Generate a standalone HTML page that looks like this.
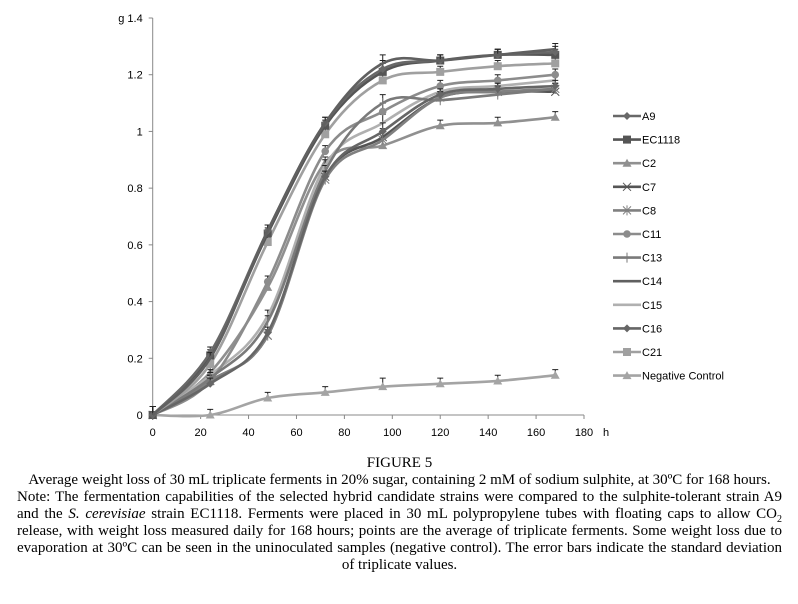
<!DOCTYPE html>
<html><head><meta charset="utf-8">
<style>
body{margin:0;background:#fff;width:798px;height:604px;overflow:hidden;position:relative;font-family:"Liberation Sans",sans-serif}
#chart{position:absolute;left:0;top:0}
.cap{position:absolute;left:17px;width:765px;font-family:"Liberation Serif",serif;font-size:15px;color:#000;line-height:17px;white-space:nowrap}
.j span.in{display:inline-block;white-space:nowrap}
.c{text-align:center}
</style></head><body>
<svg id="chart" width="798" height="450" font-family="Liberation Sans, sans-serif" font-size="11"></svg>
<div class="cap c" style="top:455px">FIGURE 5</div>
<div class="cap c" style="top:472px">Average weight loss of 30 mL triplicate ferments in 20% sugar, containing 2 mM of sodium sulphite, at 30ºC for 168 hours.</div>
<div class="cap j" style="top:489px"><span class="in">Note: The fermentation capabilities of the selected hybrid candidate strains were compared to the sulphite-tolerant strain A9</span></div>
<div class="cap j" style="top:506px"><span class="in">and the <i>S. cerevisiae</i> strain EC1118. Ferments were placed in 30 mL polypropylene tubes with floating caps to allow CO<sub style="font-size:10px;line-height:0">2</sub></span></div>
<div class="cap j" style="top:523px"><span class="in">release, with weight loss measured daily for 168 hours; points are the average of triplicate ferments. Some weight loss due to</span></div>
<div class="cap j" style="top:540px"><span class="in">evaporation at 30ºC can be seen in the uninoculated samples (negative control). The error bars indicate the standard deviation</span></div>
<div class="cap c" style="top:557px">of triplicate values.</div>
<script>
const times=[0,24,48,72,96,120,144,168];
const seriesNames=["A9","EC1118","C2","C7","C8","C11","C13","C14","C15","C16","C21","Negative Control"];
const A9=[0,0.22,0.65,1.03,1.22,1.25,1.27,1.28];
const EC1118=[0,0.21,0.64,1.02,1.21,1.25,1.27,1.27];
const C2=[0,0.15,0.45,0.89,0.95,1.02,1.03,1.05];
const C7=[0,0.12,0.28,0.84,0.98,1.12,1.14,1.14];
const C8=[0,0.12,0.28,0.83,0.97,1.12,1.14,1.15];
const C11=[0,0.12,0.47,0.93,1.07,1.16,1.18,1.20];
const C13=[0,0.13,0.33,0.86,1.10,1.11,1.13,1.15];
const C14=[0,0.20,0.65,1.03,1.24,1.25,1.27,1.29];
const C15=[0,0.14,0.35,0.88,1.03,1.14,1.16,1.18];
const C16=[0,0.11,0.29,0.84,1.00,1.13,1.15,1.16];
const C21=[0,0.18,0.61,0.99,1.18,1.21,1.23,1.24];
const NegControl=[0,0,0.06,0.08,0.10,0.11,0.12,0.14];
const errA9=[0.03,0.02,0.02,0.02,0.03,0.02,0.02,0.02];
const xTicks=[0,20,40,60,80,100,120,140,160,180];
const yTicks=[0,0.2,0.4,0.6,0.8,1,1.2];
const yTickLabels=["0","0.2","0.4","0.6","0.8","1","1.2"];

const allSeries=[A9,EC1118,C2,C7,C8,C11,C13,C14,C15,C16,C21,NegControl];
const colors=["#686868","#555","#909090","#555","#808080","#8c8c8c","#7a7a7a","#606060","#b0b0b0","#666","#a0a0a0","#a4a4a4"];
const markers=["diamond","square","triangle","x","star","circle","plus","none","none","diamond","square","triangle"];
const X0=152.7,X1=584,Y0=415,Y1=18;
const xs=v=>X0+(v/180)*(X1-X0);
const ys=v=>Y0-(v/1.4)*(Y0-Y1);
const svg=document.getElementById('chart');
const NS="http://www.w3.org/2000/svg";
function mk(t,a,p){const e=document.createElementNS(NS,t);for(const k in a)e.setAttribute(k,a[k]);(p||svg).appendChild(e);return e;}
let e=mk('line',{x1:X0,y1:Y1,x2:X0,y2:Y0,stroke:'#888'});


e=mk('line',{x1:X0,y1:Y0,x2:X1,y2:Y0,stroke:'#888'});


yTicks.forEach((v,i)=>{
 mk('line',{x1:X0-4,x2:X0,y1:ys(v),y2:ys(v),stroke:'#888'});
 const t=mk('text',{x:X0-10,y:ys(v)+4,'text-anchor':'end',fill:'#000'});t.textContent=yTickLabels[i];
 
 
});
mk('line',{x1:X0-4,x2:X0,y1:Y1,y2:Y1,stroke:'#888'});
let t=mk('text',{x:X0-10,y:Y1+4,'text-anchor':'end'});t.textContent="g 1.4";


xTicks.forEach(v=>{
 mk('line',{x1:xs(v),x2:xs(v),y1:Y0,y2:Y0+4,stroke:'#888'});
 const t=mk('text',{x:xs(v),y:Y0+21,'text-anchor':'middle'});t.textContent=v;
 
 
});
t=mk('text',{x:603,y:436});t.textContent="h";


function smooth(pts){let d=`M${pts[0][0]},${pts[0][1]}`;for(let i=0;i<pts.length-1;i++){const p0=pts[i-1]||pts[i],p1=pts[i],p2=pts[i+1],p3=pts[i+2]||p2;const k=0.17;d+=` C${p1[0]+(p2[0]-p0[0])*k},${p1[1]+(p2[1]-p0[1])*k} ${p2[0]-(p3[0]-p1[0])*k},${p2[1]-(p3[1]-p1[1])*k} ${p2[0]},${p2[1]}`;}return d;}
function marker(type,x,y,c,g){
 if(type==='diamond')mk('path',{d:`M${x},${y-4}L${x+4},${y}L${x},${y+4}L${x-4},${y}Z`,fill:c},g);
 else if(type==='square')mk('rect',{x:x-4,y:y-4,width:8,height:8,fill:c},g);
 else if(type==='triangle')mk('path',{d:`M${x},${y-4.5}L${x+4.5},${y+3.5}L${x-4.5},${y+3.5}Z`,fill:c},g);
 else if(type==='circle')mk('circle',{cx:x,cy:y,r:3.8,fill:c},g);
 else if(type==='x')mk('path',{d:`M${x-4},${y-4}L${x+4},${y+4}M${x+4},${y-4}L${x-4},${y+4}`,stroke:c,'stroke-width':1},g);
 else if(type==='star')mk('path',{d:`M${x-4},${y-4}L${x+4},${y+4}M${x+4},${y-4}L${x-4},${y+4}M${x},${y-5}L${x},${y+5}`,stroke:c,'stroke-width':1},g);
 else if(type==='plus')mk('path',{d:`M${x},${y-5}L${x},${y+5}`,stroke:c,'stroke-width':1},g);
}
const order=[11,2,8,5,3,4,6,9,10,1,0,7];
order.forEach(si=>{
 const s=allSeries[si],c=colors[si];
 const g=mk('g',{});
 
 
 const pts=times.map((tt,i)=>[xs(tt),ys(s[i])]);
 pts.forEach((p,i)=>{const ey=p[1]-errA9[i]*(Y0-Y1)/1.4;mk('path',{d:`M${p[0]},${p[1]}L${p[0]},${ey}M${p[0]-3},${ey}L${p[0]+3},${ey}`,stroke:'#222','stroke-width':1},g);});
 mk('path',{d:smooth(pts),fill:'none',stroke:c,'stroke-width':2.6},g);
 pts.forEach(p=>marker(markers[si],p[0],p[1],c,g));
});
seriesNames.forEach((n,i)=>{
 const y=116+i*23.6,c=colors[i];
 const g=mk('g',{});
 
 
 mk('line',{x1:613,x2:641,y1:y,y2:y,stroke:c,'stroke-width':2.6},g);
 marker(markers[i],627,y,c,g);
 const tx=mk('text',{x:642,y:y+4,fill:'#000'},g);tx.textContent=n;
});
// justify caption lines to full width
document.querySelectorAll('.j').forEach(d=>{
 const s=d.querySelector('.in');
 const target=d.clientWidth;
 const gaps=(s.textContent.match(/ /g)||[]).length;
 const nat=s.getBoundingClientRect().width;
 s.style.wordSpacing=((target-nat)/gaps)+'px';
 const w2=s.getBoundingClientRect().width;
 if(w2>target+0.5){const f=target/w2;s.style.transformOrigin='left';s.style.transform='scaleX('+f+')';}
});
</script>
</body></html>
